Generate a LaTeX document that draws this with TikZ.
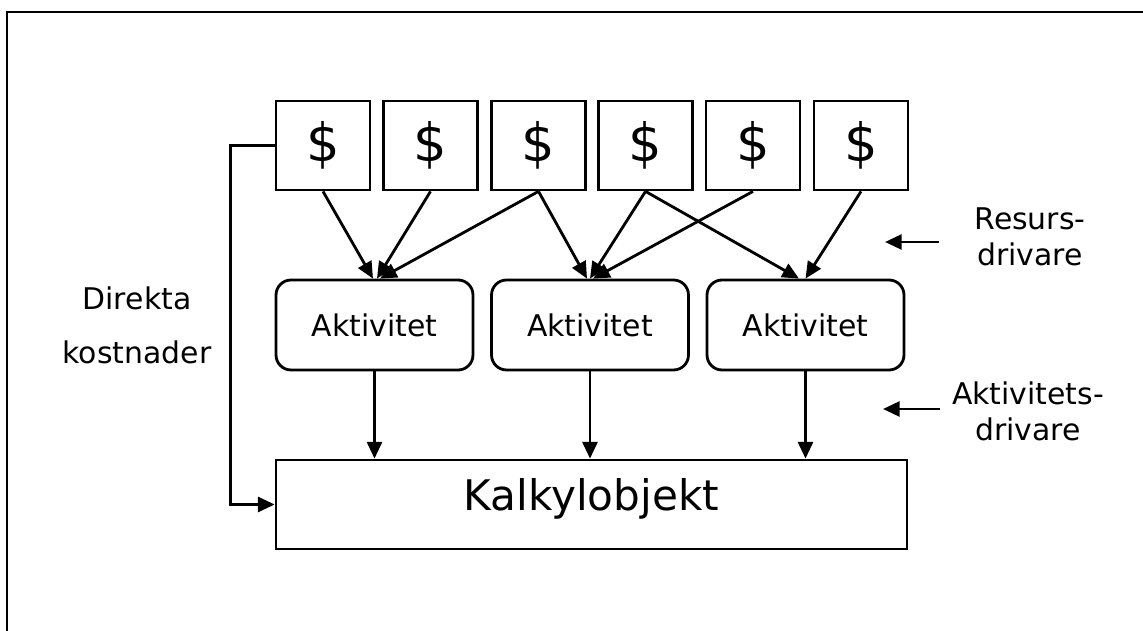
\documentclass[tikz,border=0pt]{standalone}
\usepackage{fontspec}
\setmainfont{DejaVu Sans}
\usetikzlibrary{arrows.meta,calc}
\begin{document}
\begin{tikzpicture}[x=0.02cm,y=-0.02cm,
  line width=1.6pt,
  arr/.style={-{Triangle[length=9.5pt,width=8.5pt]}},
  dollarbox/.style={draw,minimum width=1.88cm,minimum height=1.78cm,inner sep=0pt,
    font=\fontsize{30}{36}\selectfont},
  actbox/.style={draw,rounded corners=0.3cm,minimum width=3.94cm,minimum height=1.8cm,
    inner sep=0pt,font=\fontsize{17}{20}\selectfont},
  objbox/.style={draw,minimum width=12.62cm,minimum height=1.78cm,inner sep=0pt,
    font=\fontsize{24}{29}\selectfont,text height=0.73em,text depth=0pt},
  lbl/.style={align=center,inner sep=0pt,font=\fontsize{17}{20.5}\selectfont}]
\useasboundingbox (0,0) rectangle (1143,631);
\draw[line width=1.7pt] (7,640) -- (7,12) -- (1150,12);
% resource boxes
\node[dollarbox] (d1) at (323,145.5) {\$};
\node[dollarbox] (d2) at (430.5,145.5) {\$};
\node[dollarbox] (d3) at (538.5,145.5) {\$};
\node[dollarbox] (d4) at (645.5,145.5) {\$};
\node[dollarbox] (d5) at (753,145.5) {\$};
\node[dollarbox] (d6) at (861,145.5) {\$};
% activities
\node[actbox] (a1) at (374.5,325) {Aktivitet};
\node[actbox] (a2) at (590,325) {Aktivitet};
\node[actbox] (a3) at (805.5,325) {Aktivitet};
% cost object
\node[objbox] (k) at (591.5,504.5) {Kalkylobjekt};
% resource drivers
\draw[arr] (d1.south) -- ($(a1.north)+(-1.5,0)$);
\draw[arr] (d2.south) -- ($(a1.north)+(2.5,0)$);
\draw[arr] (d3.south) -- ($(a1.north)+(5.5,0)$);
\draw[arr] (d3.south) -- ($(a2.north)+(-3,0)$);
\draw[arr] (d4.south) -- (a2.north);
\draw[arr] (d5.south) -- ($(a2.north)+(3,0)$);
\draw[arr] (d4.south) -- ($(a3.north)+(-6.5,0)$);
\draw[arr] (d6.south) -- (a3.north);
% activity drivers
\draw[arr] (a1.south) -- (a1.south |- k.north);
\draw[arr] (a2.south) -- (a2.south |- k.north);
\draw[arr] (a3.south) -- (a3.south |- k.north);
% direct costs
\draw[arr] (d1.west) -- ++(-44,0) |- (k.west);
\node[lbl,anchor=base] (dk1) at (137,310) {Direkta};
\node[lbl,anchor=base] (dk2) at (137,364) {kostnader};
% side labels
\node[lbl] (rd) at (1030,237) {Resurs-\\drivare};
\coordinate (r1) at (939,242);
\coordinate (r2) at (885,242);
\draw[arr] (r1) -- (r2);
\node[lbl] (ad) at (1028,411) {Aktivitets-\\drivare};
\coordinate (s1) at (940,409);
\coordinate (s2) at (883,409);
\draw[arr] (s1) -- (s2);
\end{tikzpicture}
\end{document}
